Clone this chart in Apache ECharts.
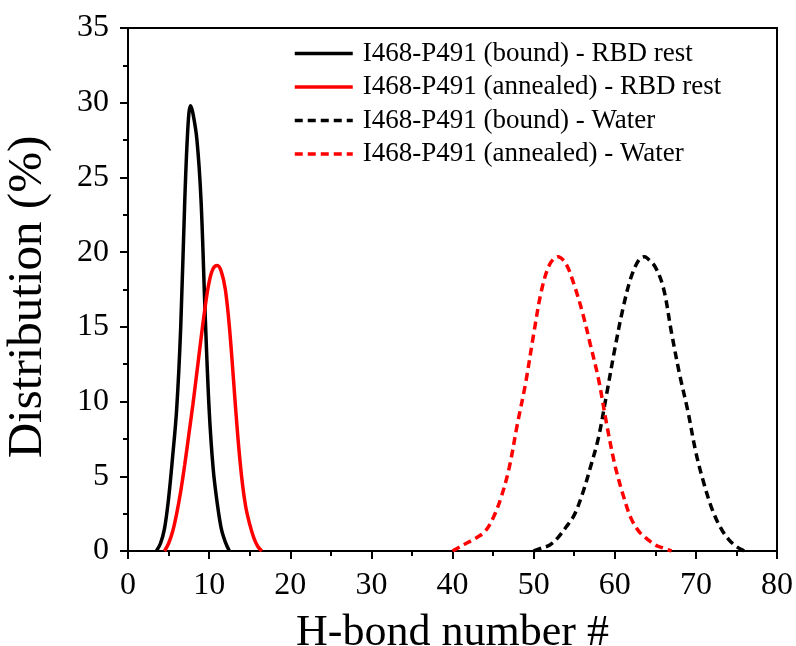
<!DOCTYPE html>
<html>
<head>
<meta charset="utf-8">
<script src="https://cdn.jsdelivr.net/npm/echarts@6/dist/echarts.min.js"></script>
<style>
html,body{margin:0;padding:0;background:#fff;}
#chart{width:796px;height:646px;}
</style>
</head>
<body>
<div id="chart"></div>
<script>
var seriesNames = [
  'I468-P491 (bound) - RBD rest',
  'I468-P491 (annealed) - RBD rest',
  'I468-P491 (bound) - Water',
  'I468-P491 (annealed) - Water'
];
var boundRBD = [[3.5,0],[4,0.5],[4.5,1.5],[5,3.5],[5.5,6.3],[6,9.5],[6.5,15],[7,23.5],[7.4,28.5],[7.7,29.8],[8,29.3],[8.5,27.5],[9,23.5],[9.5,16],[10,9.5],[10.5,5.5],[11,3.2],[11.5,1.5],[12,0.6],[12.5,0]];
var annealedRBD = [[4.5,0],[5,0.5],[5.5,1.3],[6,2.5],[6.5,4],[7,5.8],[7.5,7.8],[8,9.8],[8.5,12],[9,14.2],[9.5,16.3],[10,18],[10.5,18.9],[11,19.1],[11.5,18.7],[12,17.5],[12.5,15],[13,11.5],[13.5,7.9],[14,5],[14.5,3],[15,1.8],[15.5,0.9],[16,0.3],[16.5,0]];
var boundWater = [[50,0],[51,0.2],[52,0.4],[53,0.9],[54,1.6],[55,2.4],[56,3.8],[57,5.6],[58,7.6],[59,10.5],[60,13.5],[61,16.2],[62,18.3],[63,19.5],[63.7,19.7],[64,19.6],[65,19],[66,17.6],[67,14.6],[68,11.8],[69,9.4],[70,6.6],[71,4.5],[72,2.8],[73,1.6],[74,0.8],[75,0.3],[76,0]];
var annealedWater = [[40,0],[41,0.3],[42,0.6],[43,0.9],[44,1.3],[45,2.2],[46,3.6],[47,5.6],[48,8.5],[49,11.2],[50,14.5],[51,17.5],[52,19.2],[53,19.7],[54,19.2],[55,17.8],[56,16],[57,13.8],[58,11.5],[59,8.5],[60,5.8],[61,3.8],[62,2.2],[63,1.3],[64,0.8],[65,0.4],[66,0.2],[67,0]];
var xTicks = [0,10,20,30,40,50,60,70,80];
var yTicks = [0,5,10,15,20,25,30,35];
var xTitle = 'H-bond number #';
var yTitle = 'Distribution (%)';

var FONT = '"Liberation Serif", "Times New Roman", serif';
var chart = echarts.init(document.getElementById('chart'), null, {renderer:'canvas'});

function mk(name, data, color, dashed) {
  return {
    name: name, type: 'line', data: data, smooth: 0.35, symbol: 'none',
    lineStyle: {color: color, width: 3.5, type: dashed ? [8,5] : 'solid'},
    itemStyle: {color: color}, z: 3
  };
}

chart.setOption({
  backgroundColor: '#fff',
  animation: false,
  grid: {left: 128, right: 19, top: 28, bottom: 95, outerBoundsMode: 'none', containLabel: false, show: true, borderColor: '#000', borderWidth: 2, backgroundColor: 'transparent'},
  legend: {
    orient: 'vertical', left: 293, top: 40, padding: 0,
    itemWidth: 58, itemHeight: 14, itemGap: 6.5,
    itemStyle: {color: 'rgba(0,0,0,0)', borderColor: 'rgba(0,0,0,0)', borderWidth: 0},
    lineStyle: {width: 3.5},
    textStyle: {fontFamily: FONT, fontSize: 27, color: '#000', lineHeight: 27, padding: [0,0,0,5]},
    data: seriesNames
  },
  graphic: [{
    type: 'text', x: 28, y: 297, rotation: Math.PI / 2,
    style: {text: yTitle, fontFamily: FONT, fontSize: 49, fill: '#000', align: 'center', verticalAlign: 'middle'}
  }],
  xAxis: {
    type: 'value', min: xTicks[0], max: xTicks[xTicks.length-1], interval: 10,
    name: xTitle, nameLocation: 'middle', nameGap: 60,
    nameTextStyle: {fontFamily: FONT, fontSize: 44, color: '#000'},
    axisLine: {show: true, lineStyle: {color: '#000', width: 2}},
    axisTick: {show: true, inside: false, length: 8, lineStyle: {color: '#000', width: 2}},
    minorTick: {show: true, splitNumber: 2, length: 5, lineStyle: {color: '#000', width: 2}},
    axisLabel: {fontFamily: FONT, fontSize: 32, color: '#000', margin: 19},
    splitLine: {show: false}
  },
  yAxis: {
    type: 'value', min: yTicks[0], max: yTicks[yTicks.length-1], interval: 5,
    axisLine: {show: true, lineStyle: {color: '#000', width: 2}},
    axisTick: {show: true, inside: false, length: 8, lineStyle: {color: '#000', width: 2}},
    minorTick: {show: true, splitNumber: 2, length: 5, lineStyle: {color: '#000', width: 2}},
    axisLabel: {fontFamily: FONT, fontSize: 32, color: '#000', margin: 19},
    splitLine: {show: false}
  },
  series: [
    mk(seriesNames[0], boundRBD, '#000000', false),
    mk(seriesNames[1], annealedRBD, '#ff0000', false),
    mk(seriesNames[2], boundWater, '#000000', true),
    mk(seriesNames[3], annealedWater, '#ff0000', true)
  ]
});
</script>
</body>
</html>
